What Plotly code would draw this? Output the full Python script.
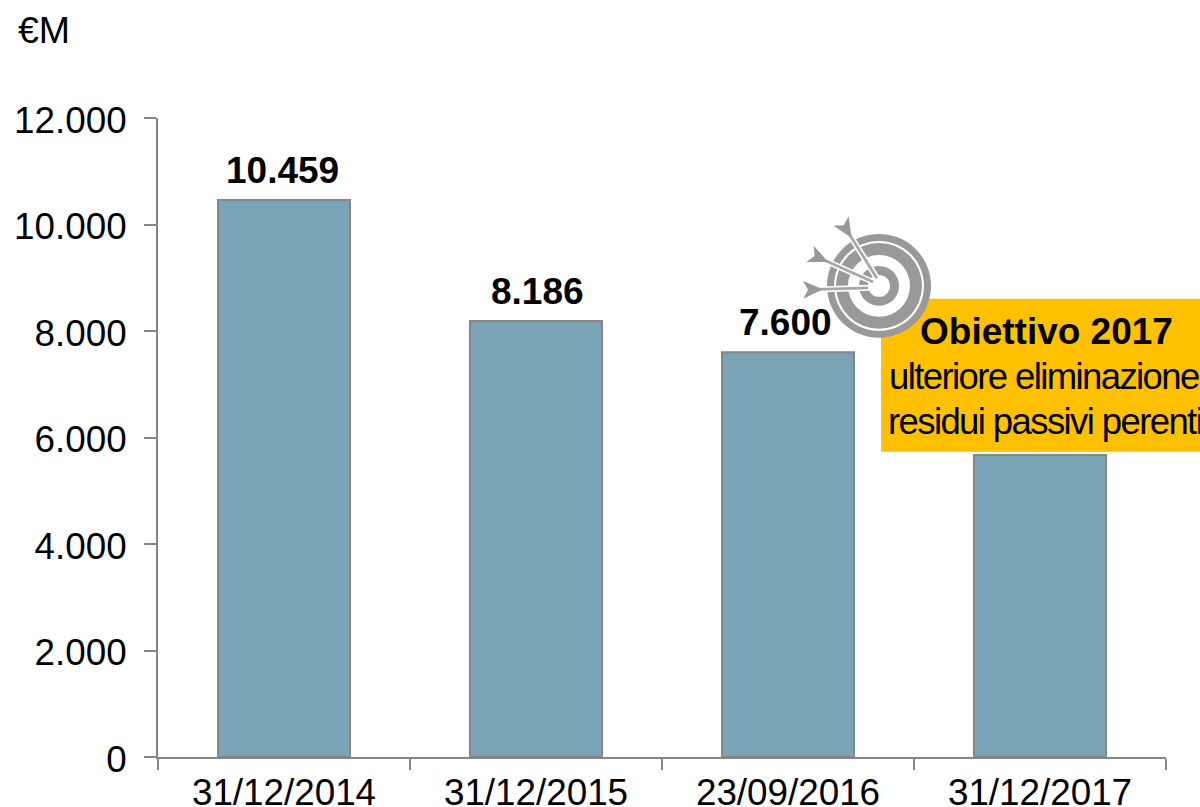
import math
import plotly.graph_objects as go

categories = ["31/12/2014", "31/12/2015", "23/09/2016", "31/12/2017"]
values = [10459, 8186, 7600, 5670]
labels = ["10.459", "8.186", "7.600"]
y_ticks = [0, 2000, 4000, 6000, 8000, 10000, 12000]

W, H = 1200, 807
L, R, T, B = 158, 1166, 118, 757.5
FONT = "Liberation Sans, Arial, sans-serif"
GREY = "#999999"

def px(x): return (x - L) / (R - L)
def py(y): return (B - y) / (B - T)

fig = go.Figure(go.Bar(
    x=categories, y=values, cliponaxis=False,
    marker=dict(color="#7BA3B6", line=dict(color="#868686", width=2)),
    width=0.524,
))

shapes = []
def circle(cx, cy, r, color):
    shapes.append(dict(type="circle", xref="paper", yref="paper",
                       x0=px(cx - r), x1=px(cx + r), y0=py(cy + r), y1=py(cy - r),
                       fillcolor=color, line_width=0, layer="above"))

def poly(points, color):
    path = "M " + " L ".join(f"{px(a):.5f} {py(b):.5f}" for a, b in points) + " Z"
    shapes.append(dict(type="path", xref="paper", yref="paper", path=path,
                       fillcolor=color, line_width=0, layer="above"))

# orange callout box
shapes.append(dict(type="rect", xref="paper", yref="paper",
                   x0=px(881), x1=px(1201), y0=py(452), y1=py(299),
                   fillcolor="#FFC000", line_width=0, layer="above"))
# target icon
circle(879, 286, 52, GREY)
circle(879, 286, 45, "#FFFFFF")
circle(879, 286, 43, GREY)
circle(879, 286, 31, "#FFFFFF")
circle(879, 286, 20, GREY)
circle(879, 286, 11, "#FFFFFF")

def arrow(tip, tail, wing):
    dx, dy = tail[0] - tip[0], tail[1] - tip[1]
    n = math.hypot(dx, dy)
    ux, uy = dx / n, dy / n
    vx, vy = -uy, ux
    P = lambda a, b: (tip[0] + ux * a + vx * b, tip[1] + uy * a + vy * b)
    poly([P(0, -3), P(n - 14, -3), P(n - 14, 3), P(0, 3)], "#FFFFFF")
    poly([P(2, -1.4), P(n - 14, -1.4), P(n - 14, 1.4), P(2, 1.4)], "#A8A8A8")
    poly([P(n - 20, 0), P(n, -wing), P(n - 5, 0), P(n, wing)], GREY)

arrow((878, 280), (841, 221), 9)
arrow((875, 283), (810, 254), 9)
arrow((870, 288), (803, 290), 9)

ann = []
def note(text, x, y, size, bold=False, anchor="center"):
    ann.append(dict(text=text, xref="paper", yref="paper", x=px(x), y=py(y),
                    xanchor=anchor, yanchor="middle", showarrow=False, align=anchor,
                    font=dict(family=FONT, size=size, color="#000000",
                              weight="bold" if bold else "normal")))
note("€M", 16, 30, 37.5, anchor="left")
note("Obiettivo 2017", 1046, 332, 37, bold=True)
note("ulteriore eliminazione", 887, 377, 36.5, anchor="left")
note("residui passivi perenti", 886, 422, 36.5, anchor="left")

# value labels above the bars
for cat, val, lab, dx in zip(categories, values, labels, [-1.5, 1, -3]):
    ann.append(dict(text=lab, x=cat, y=val, xref="x", yref="y", showarrow=False,
                    xanchor="center", yanchor="middle", yshift=30, xshift=dx,
                    font=dict(family=FONT, size=37, color="#000000", weight="bold")))

axis_line = dict(showline=True, linecolor="#868686", linewidth=2, ticks="outside",
                 tickcolor="#868686", tickwidth=2, showgrid=False, zeroline=False,
                 tickfont=dict(family=FONT, size=36.8, color="#000000"))

fig.update_layout(
    width=W, height=H, margin=dict(l=L, r=W - R, t=T, b=H - B, autoexpand=False),
    paper_bgcolor="#FFFFFF", plot_bgcolor="#FFFFFF", showlegend=False,
    separators=",.", shapes=shapes, annotations=ann,
)
fig.update_xaxes(range=[-0.5, 3.5], tickson="boundaries", ticklen=11,
                 ticklabelstandoff=2, **axis_line)
fig.update_yaxes(range=[0, 12000], tickvals=y_ticks, tickformat=",", ticklen=12,
                 ticklabelstandoff=10, ticklabelshift=2, **axis_line)

post = """
document.body.style.margin='0';document.body.style.overflow='hidden';
document.querySelectorAll('.annotation-text').forEach(function(t){
  if(/ulteriore|residui/.test(t.textContent)){t.style.letterSpacing='-1.6px';}
});
"""
fig.write_html("out.html", post_script=post, config={"displayModeBar": False})
